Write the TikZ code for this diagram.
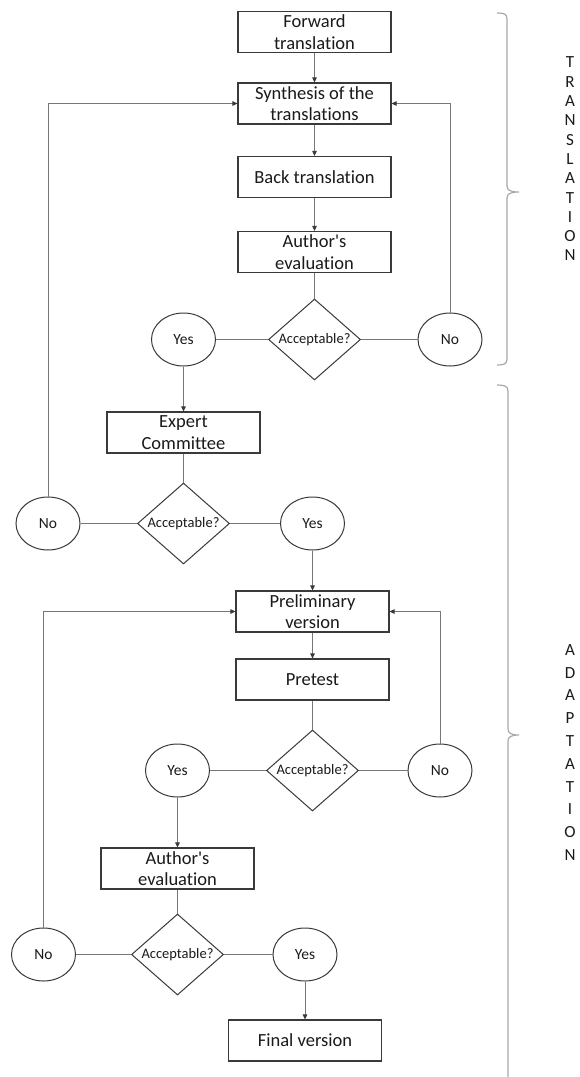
\documentclass[tikz,border=0pt]{standalone}
\usepackage{fontspec}
\setmainfont{Carlito}[Ligatures={TeXOff,NoCommon}]
\usetikzlibrary{shapes.geometric,arrows.meta}
\definecolor{linegray}{HTML}{777777}
\definecolor{boxgray}{HTML}{3A3A3A}
\definecolor{bracegray}{HTML}{A8A8A8}
\definecolor{txt}{HTML}{1A1A1A}
\begin{document}
\begin{tikzpicture}[x=1pt,y=-1pt,
  conn/.style={draw=linegray, line width=0.9pt},
  arr/.style={conn, -{Triangle[length=5pt,width=4.5pt,color=boxgray]}},
  stepbox/.style={rectangle, draw=boxgray, line width=1.1pt, minimum width=153pt, minimum height=41pt, inner sep=0pt, align=center, text=txt, font=\fontsize{18.5}{21.5}\selectfont},
  decision/.style={diamond, draw=boxgray, line width=1pt, shape aspect=1.15, inner sep=0pt, minimum width=92pt, minimum height=81pt, text=txt, font=\fontsize{14.5}{17}\selectfont},
  answer/.style={ellipse, draw=boxgray, line width=1pt, minimum width=64pt, minimum height=53pt, inner sep=0pt, text=txt, font=\fontsize{15.5}{18}\selectfont},
  bracecol/.style={draw=bracegray, line width=1.2pt},
  side/.style={align=center, inner sep=0pt, text=txt, font=\fontsize{17}{19.3}\selectfont}
]
\useasboundingbox[fill=white] (0,0) rectangle (579,1077);

% translation column
\node[stepbox] (f1) at (314.5,32) {Forward\\translation};
\node[stepbox] (f2) at (314.5,103.5) {Synthesis of the\\translations};
\node[stepbox] (f3) at (314.5,177) {Back translation};
\node[stepbox] (f4) at (314.5,252) {Author's\\evaluation};
\node[decision] (d1) at (314.5,339.5) {Acceptable?};
\node[answer] (y1) at (183.5,339.5) {Yes};
\node[answer] (n1) at (450,339.5) {No};

\node[stepbox] (e1) at (183.5,432.5) {Expert\\Committee};
\node[decision] (d2) at (183.5,523.5) {Acceptable?};
\node[answer] (n2) at (48,523.5) {No};
\node[answer] (y2) at (312.5,523.5) {Yes};

% adaptation column
\node[stepbox] (p1) at (312.5,611.5) {Preliminary\\version};
\node[stepbox] (p2) at (312.5,679.5) {Pretest};
\node[decision] (d3) at (312.5,770.5) {Acceptable?};
\node[answer] (y3) at (177.5,770.5) {Yes};
\node[answer] (n3) at (440,770.5) {No};

\node[stepbox] (a2) at (177.5,868.5) {Author's\\evaluation};
\node[decision] (d4) at (177.5,954.5) {Acceptable?};
\node[answer] (n4) at (43.5,954.5) {No};
\node[answer] (y4) at (305,954.5) {Yes};
\node[stepbox] (fv) at (305,1040.5) {Final version};

% connectors
\draw[arr] (f1) -- (f2);
\draw[arr] (f2) -- (f3);
\draw[arr] (f3) -- (f4);
\draw[conn] (f4) -- (d1);
\draw[conn] (d1) -- (y1);
\draw[conn] (d1) -- (n1);
\draw[arr] (n1.north) |- (f2.east);
\draw[arr] (y1) -- (e1);
\draw[conn] (e1) -- (d2);
\draw[conn] (d2) -- (n2);
\draw[conn] (d2) -- (y2);
\draw[arr] (n2.north) |- (f2.west);
\draw[arr] (y2) -- (p1);
\draw[arr] (p1) -- (p2);
\draw[conn] (p2) -- (d3);
\draw[conn] (d3) -- (y3);
\draw[conn] (d3) -- (n3);
\draw[arr] (n3.north) |- (p1.east);
\draw[arr] (y3) -- (a2);
\draw[conn] (a2) -- (d4);
\draw[conn] (d4) -- (n4);
\draw[conn] (d4) -- (y4);
\draw[arr] (n4.north) |- (p1.west);
\draw[arr] (y4) -- (fv);

% braces
\draw[bracecol] (497,13) .. controls (504,13) and (507,14) .. (507,19) -- (507,186)
  .. controls (507,190) and (510,192) .. (519,192)
  .. controls (510,192) and (507,194) .. (507,198) -- (507,359)
  .. controls (507,364) and (504,365) .. (497,365);
\draw[bracecol] (497,385) .. controls (504,385) and (508,386) .. (508,391) -- (508,729)
  .. controls (508,733) and (511,735) .. (519,735)
  .. controls (511,735) and (508,737) .. (508,741) -- (508,1077);

\node[side] (tr) at (570,159) {T\\R\\A\\N\\S\\L\\A\\T\\I\\O\\N};
\node[side, font=\fontsize{17}{22.8}\selectfont] (ad) at (570,752.5) {A\\D\\A\\P\\T\\A\\T\\I\\O\\N};
\end{tikzpicture}
\end{document}
